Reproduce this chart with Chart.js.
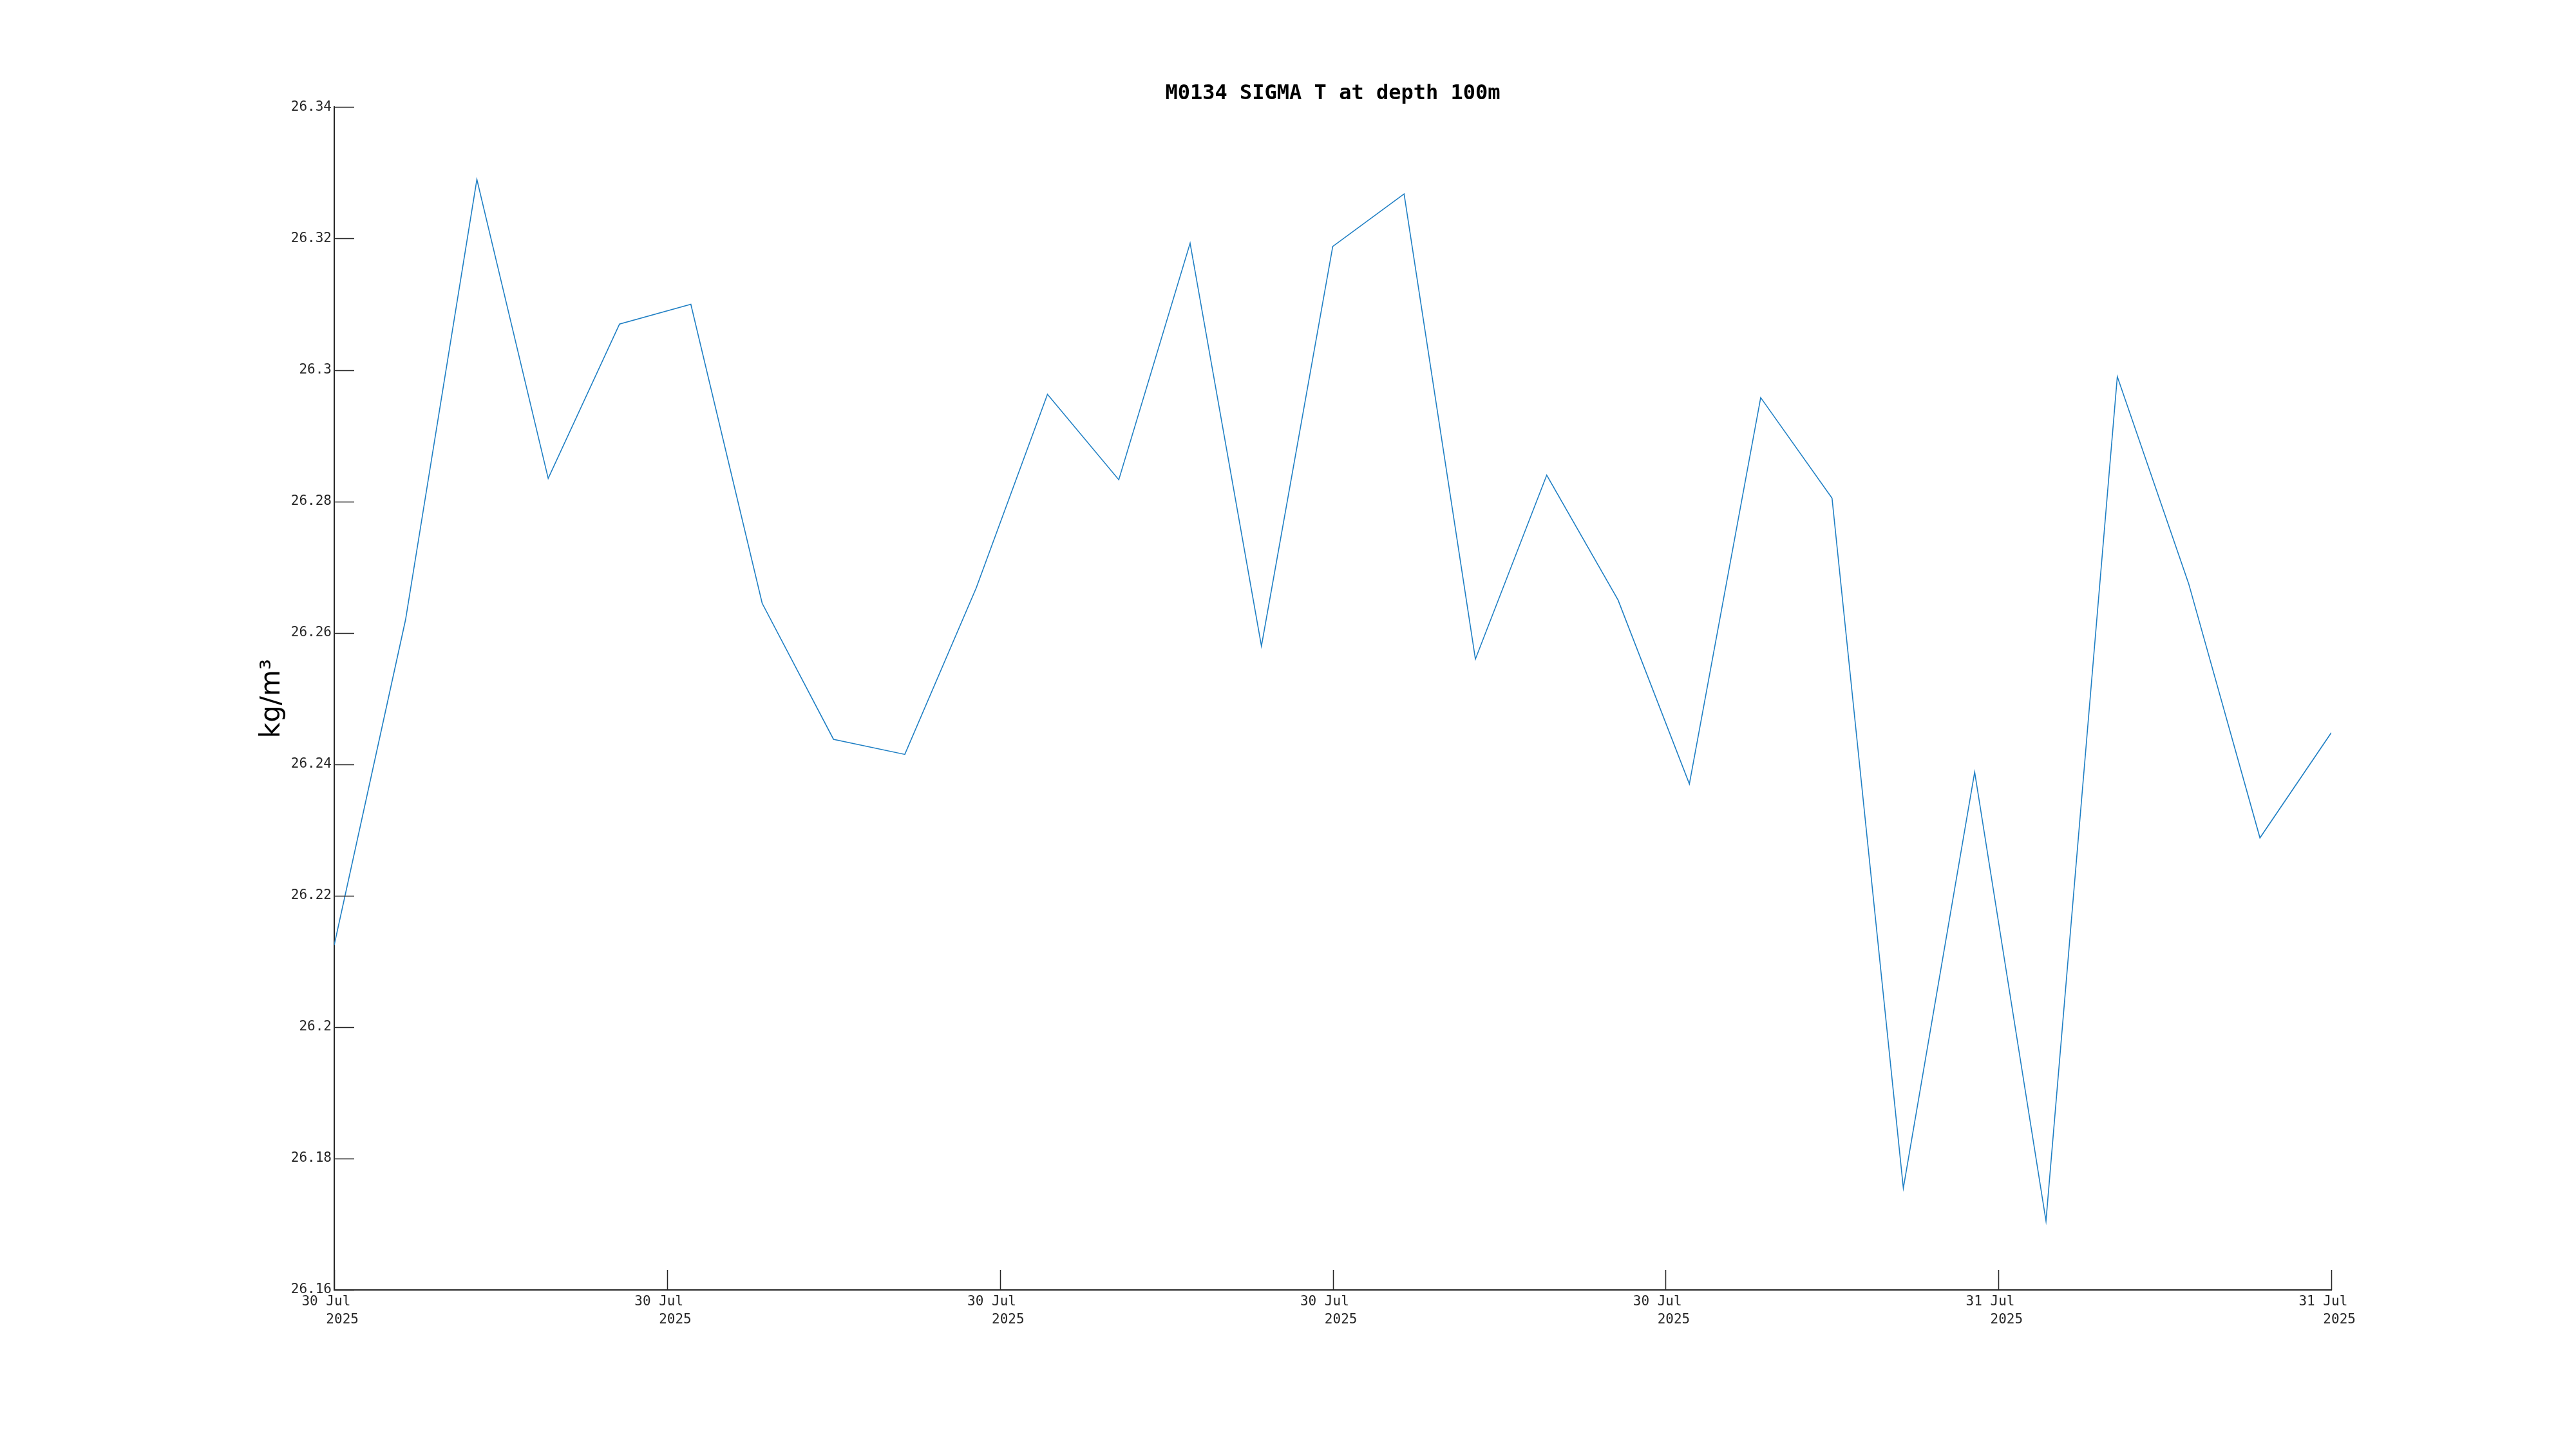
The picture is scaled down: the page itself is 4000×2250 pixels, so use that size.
<!DOCTYPE html>
<html>
<head>
<meta charset="utf-8">
<title>M0134 SIGMA T at depth 100m</title>
<script src="https://cdn.jsdelivr.net/npm/chart.js@4.4.1/dist/chart.umd.min.js"></script>
<style>
    html, body { margin: 0; padding: 0; background: #fff; }
    #wrap { width: 4000px; height: 2250px; }
</style>
</head>
<body>
<div id="wrap"><canvas id="sigmaChart" width="4000" height="2250"></canvas></div>
<script>
// Sample index along the time axis (29 readings)
const sampleIndex = [0, 1, 2, 3, 4, 5, 6, 7, 8, 9, 10, 11, 12, 13, 14, 15, 16, 17, 18, 19, 20, 21, 22, 23, 24, 25, 26, 27, 28];

// SIGMA T values, kg/m3
const sigmaT = [
    26.2125, 26.262, 26.329, 26.2835, 26.307, 26.310, 26.2645, 26.2438, 26.2415, 26.2668,
    26.2963, 26.2833, 26.3193, 26.258, 26.3188, 26.3268, 26.256, 26.284, 26.265, 26.237,
    26.2958, 26.2805, 26.1755, 26.2388, 26.1705, 26.299, 26.2675, 26.2288, 26.2448
];

// x tick labels (two lines each), evenly spaced over the record
const xTickLabels = [
    ['30 Jul', '2025'], ['30 Jul', '2025'], ['30 Jul', '2025'], ['30 Jul', '2025'],
    ['30 Jul', '2025'], ['31 Jul', '2025'], ['31 Jul', '2025']
];

// y tick values
const yTicks = [26.16, 26.18, 26.2, 26.22, 26.24, 26.26, 26.28, 26.3, 26.32, 26.34];

const axisColor = '#262626';
const monoFont = "'DejaVu Sans Mono', monospace";
const lastIndex = sampleIndex[sampleIndex.length - 1];

// Draw ticks pointing into the plot, like the original figure
const inwardTicks = {
    id: 'inwardTicks',
    afterDraw(chart) {
        const { ctx, chartArea, scales } = chart;
        const len = 31;
        ctx.save();
        ctx.strokeStyle = axisColor;
        ctx.lineWidth = 1.5;
        ctx.beginPath();
        scales.y.ticks.forEach(t => {
            const y = Math.round(scales.y.getPixelForValue(t.value)) + 0.5;
            ctx.moveTo(chartArea.left, y);
            ctx.lineTo(chartArea.left + len, y);
        });
        scales.x.ticks.forEach(t => {
            const x = Math.round(scales.x.getPixelForValue(t.value)) + 0.5;
            ctx.moveTo(x, chartArea.bottom);
            ctx.lineTo(x, chartArea.bottom - len);
        });
        ctx.stroke();
        ctx.restore();
    }
};

const ctx = document.getElementById('sigmaChart').getContext('2d');
new Chart(ctx, {
    type: 'line',
    data: {
        datasets: [{
            data: sampleIndex.map((x, i) => ({ x: x, y: sigmaT[i] })),
            borderColor: '#1f7fc4',
            borderWidth: 1.6,
            pointRadius: 0,
            fill: false,
            tension: 0
        }]
    },
    options: {
        responsive: false,
        animation: false,
        layout: {
            padding: { left: 0, right: 380, top: 0, bottom: 147 }
        },
        plugins: {
            legend: { display: false },
            tooltip: { enabled: false },
            title: {
                display: true,
                fullSize: false,
                text: 'M0134 SIGMA T at depth 100m',
                color: '#000',
                font: { family: monoFont, size: 32, weight: 'bold', lineHeight: 1.2 },
                padding: { top: 126, bottom: 2 }
            }
        },
        scales: {
            x: {
                type: 'linear',
                min: 0,
                max: lastIndex,
                afterBuildTicks: scale => {
                    scale.ticks = xTickLabels.map((_, i) => ({ value: i * lastIndex / (xTickLabels.length - 1) }));
                },
                afterFit: scale => { scale.height = 100; },
                grid: { drawOnChartArea: false, drawTicks: false },
                border: { display: true, color: axisColor, width: 2 },
                ticks: {
                    autoSkip: false,
                    maxRotation: 0,
                    padding: 4,
                    color: axisColor,
                    font: { family: monoFont, size: 21, lineHeight: 1.35 },
                    callback: (v, i) => [xTickLabels[i][0] + '  ', '  ' + xTickLabels[i][1]]
                }
            },
            y: {
                min: yTicks[0],
                max: yTicks[yTicks.length - 1],
                afterBuildTicks: scale => {
                    scale.ticks = yTicks.map(v => ({ value: v }));
                },
                afterFit: scale => { scale.width = 519; },
                grid: { drawOnChartArea: false, drawTicks: false },
                border: { display: true, color: axisColor, width: 2 },
                ticks: {
                    padding: 4,
                    color: axisColor,
                    font: { family: monoFont, size: 21 },
                    callback: v => String(Number(v.toFixed(2)))
                },
                title: {
                    display: true,
                    text: 'kg/m³',
                    color: '#000',
                    font: { family: "'DejaVu Sans', sans-serif", size: 42, lineHeight: 1.2 },
                    padding: { top: 398, bottom: 0 }
                }
            }
        }
    },
    plugins: [inwardTicks]
});
</script>
</body>
</html>
